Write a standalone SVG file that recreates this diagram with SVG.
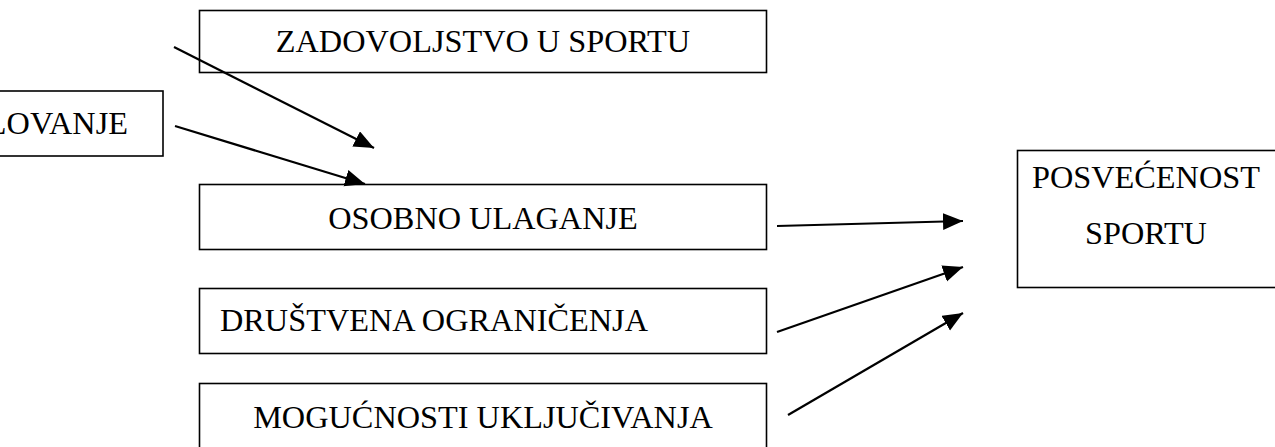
<svg xmlns="http://www.w3.org/2000/svg" width="1275" height="447" viewBox="0 0 1275 447">
<style>
.box{fill:#fff;stroke:#000;stroke-width:1.6}
.t{font-family:"Liberation Serif","Times New Roman",serif;font-size:32.3px;fill:#000}
.c{stroke:#000;stroke-width:2.2;fill:none}
</style>
<defs>
<marker id="ah" markerUnits="userSpaceOnUse" markerWidth="24" markerHeight="18" refX="20" refY="8.5" orient="auto">
<path d="M0,0 L20,8.5 L0,17 z" fill="#000"/>
</marker>
</defs>
<rect width="1275" height="447" fill="#fff"/>
<g id="zadovoljstvo">
<rect class="box" x="199.5" y="10.5" width="567" height="62"/>
<text class="t" x="483" y="52" text-anchor="middle">ZADOVOLJSTVO U SPORTU</text>
</g>
<g id="lovanje">
<rect class="box" x="-20" y="91" width="183" height="65"/>
<text class="t" x="128" y="134" text-anchor="end">LOVANJE</text>
</g>
<g id="osobno">
<rect class="box" x="199.5" y="184.5" width="567" height="65"/>
<text class="t" x="483" y="229" text-anchor="middle">OSOBNO ULAGANJE</text>
</g>
<g id="drustvena">
<rect class="box" x="199.5" y="288.5" width="567" height="65"/>
<text class="t" x="220" y="331">DRUŠTVENA OGRANIČENJA</text>
</g>
<g id="mogucnosti">
<rect class="box" x="199.5" y="383.5" width="567" height="80"/>
<text class="t" x="483" y="428" text-anchor="middle">MOGUĆNOSTI UKLJUČIVANJA</text>
</g>
<g id="posvecenost">
<rect class="box" x="1017.5" y="150.5" width="280" height="137"/>
<text class="t" x="1146" y="188" text-anchor="middle">POSVEĆENOST</text>
<text class="t" x="1146" y="244" text-anchor="middle">SPORTU</text>
</g>
<g id="connectors">
<line class="c" x1="174" y1="47" x2="374" y2="148" marker-end="url(#ah)"/>
<line class="c" x1="175" y1="126" x2="365" y2="184" marker-end="url(#ah)"/>
<line class="c" x1="777" y1="226" x2="963" y2="221" marker-end="url(#ah)"/>
<line class="c" x1="777" y1="332" x2="963" y2="267" marker-end="url(#ah)"/>
<line class="c" x1="788" y1="415" x2="963" y2="313" marker-end="url(#ah)"/>
</g>
</svg>
